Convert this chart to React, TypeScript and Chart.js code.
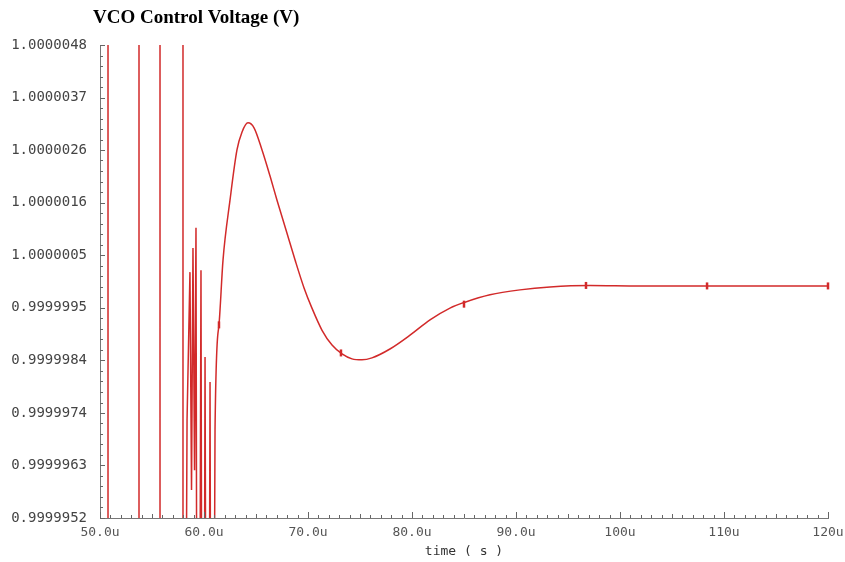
import React, { useEffect, useRef } from "react";
import { Chart, registerables } from "chart.js";

Chart.register(...registerables);

const TITLE = "VCO Control Voltage (V)";
const X_LABEL = "time ( s )";

// time in microseconds
const TIME_US = [
  50.77, 50.77, 53.75, 53.75, 55.77, 55.77, 57.98, 57.98,
  58.37, 58.65, 58.8, 58.94, 59.09, 59.23, 59.42, 59.71, 59.9, 60.1, 60.34, 60.58, 60.77,
];
const VOLTS = [
  0.99998, 1.00002, 1.00002, 0.99998, 0.99998, 1.00002, 1.00002, 0.99998,
  0.99999719, 1.00000019, 0.99999577, 1.00000068, 0.99999617, 1.00000109, 0.99998, 1.00000023,
  0.99998, 0.99999847, 0.99998, 0.99999796, 0.99998,
];

const SMOOTH_TIME_US = [
  60.77, 61.06, 61.44, 61.83, 62.5, 63.17, 63.65, 64.23, 64.81, 65.58, 66.35, 67.02, 67.88,
  68.75, 69.62, 70.38, 71.35, 72.31, 73.27, 74.23, 75.19, 76.15, 77.88, 79.81,
  81.73, 83.65, 85.1, 87.5, 90.38, 93.27, 97.12, 101.9, 120,
];
const SMOOTH_VOLTS = [
  0.99998, 0.99999699, 0.99999912, 1.00000044, 1.00000165, 1.00000267, 1.00000303, 1.00000322,
  1.00000312, 1.00000267, 1.00000214, 1.00000165, 1.00000105, 1.00000044, 0.99999987,
  0.99999946, 0.99999901, 0.99999871, 0.99999853, 0.99999843,
  0.99999841, 0.99999845, 0.99999863, 0.99999891, 0.99999922, 0.99999946, 0.99999958,
  0.99999973, 0.99999983, 0.99999989, 0.99999992, 0.99999991, 0.99999991,
];

const MARKER_TIME_US = [61.44, 73.17, 85.0, 96.73, 108.37, 120];
const MARKER_VOLTS = [0.99999912, 0.99999855, 0.99999954, 0.99999992, 0.99999991, 0.99999991];

const X_TICKS = [50, 60, 70, 80, 90, 100, 110, 120];
const X_TICK_LABELS = ["50.0u", "60.0u", "70.0u", "80.0u", "90.0u", "100u", "110u", "120u"];

const Y_TICKS = [
  0.9999952, 0.99999627, 0.99999733, 0.9999984, 0.99999947, 1.00000053, 1.0000016, 1.00000267,
  1.00000373, 1.0000048,
];
const Y_TICK_LABELS = [
  "0.9999952", "0.9999963", "0.9999974", "0.9999984", "0.9999995", "1.0000005", "1.0000016",
  "1.0000026", "1.0000037", "1.0000048",
];

const LINE_COLOR = "#d22a2a";

const decorPlugin = {
  id: "decor",
  afterDraw(chart: any) {
    const ctx = chart.ctx;
    const { left, bottom } = chart.chartArea;
    const xs = chart.scales.x;
    const ys = chart.scales.y;
    ctx.save();
    ctx.strokeStyle = "#666";
    ctx.lineWidth = 1;
    ctx.beginPath();
    for (let i = 0; i < Y_TICKS.length - 1; i++) {
      const a = ys.getPixelForValue(Y_TICKS[i]);
      const b = ys.getPixelForValue(Y_TICKS[i + 1]);
      for (let k = 0; k < 5; k++) {
        const y = Math.round(a + ((b - a) * k) / 5) + 0.5;
        const len = k === 0 ? 5 : 3;
        ctx.moveTo(left, y);
        ctx.lineTo(left + len, y);
      }
    }
    const yt = Math.round(ys.getPixelForValue(Y_TICKS[Y_TICKS.length - 1])) + 0.5;
    ctx.moveTo(left, yt);
    ctx.lineTo(left + 5, yt);
    for (let t = X_TICKS[0]; t <= X_TICKS[X_TICKS.length - 1]; t += 1) {
      const x = Math.round(xs.getPixelForValue(t)) + 0.5;
      const len = t % 10 === 0 ? 6 : t % 5 === 0 ? 4 : 3;
      ctx.moveTo(x, bottom);
      ctx.lineTo(x, bottom - len);
    }
    ctx.stroke();
    ctx.fillStyle = "#000";
    ctx.font = "bold 19px 'Liberation Serif', serif";
    ctx.textBaseline = "middle";
    ctx.textAlign = "left";
    ctx.fillText(TITLE, 93, 18);
    ctx.restore();
  },
};

export default function App() {
  const ref = useRef<HTMLCanvasElement>(null);
  useEffect(() => {
    document.body.style.margin = "0";
    const chart = new Chart(ref.current as HTMLCanvasElement, {
      type: "scatter",
      data: {
        datasets: [
          {
            data: TIME_US.map((t, i) => ({ x: t, y: VOLTS[i] })),
            showLine: true,
            borderColor: LINE_COLOR,
            borderWidth: 1.5,
            pointRadius: 0,
            tension: 0,
          },
          {
            data: SMOOTH_TIME_US.map((t, i) => ({ x: t, y: SMOOTH_VOLTS[i] })),
            showLine: true,
            borderColor: LINE_COLOR,
            borderWidth: 1.5,
            pointRadius: 0,
            cubicInterpolationMode: "monotone",
          },
          {
            data: MARKER_TIME_US.map((t, i) => ({ x: t, y: MARKER_VOLTS[i] })),
            showLine: false,
            pointStyle: "line",
            rotation: 90,
            pointRadius: 3.5,
            borderColor: LINE_COLOR,
            pointBorderWidth: 2.5,
            clip: false,
          } as any,
        ],
      },
      options: {
        animation: false,
        responsive: false,
        layout: { padding: { left: 0, top: 45, right: 17, bottom: 0 } },
        plugins: { legend: { display: false }, tooltip: { enabled: false }, title: { display: false } },
        scales: {
          x: {
            type: "linear",
            min: 50,
            max: 120,
            afterFit: (s: any) => { s.height = 44; s.paddingRight = 0; s.paddingLeft = 0; },
            afterBuildTicks: (s: any) => { s.ticks = X_TICKS.map((v) => ({ value: v })); },
            grid: { display: false, drawTicks: false },
            border: { display: true, color: "#777", width: 1 },
            ticks: {
              padding: 7,
              color: "#555",
              font: { family: "'DejaVu Sans Mono', monospace", size: 13 },
              maxRotation: 0,
              autoSkip: false,
              callback: (_v: any, i: number) => X_TICK_LABELS[i],
            },
            title: {
              display: true,
              text: X_LABEL,
              color: "#333",
              font: { family: "'DejaVu Sans Mono', monospace", size: 13 },
              padding: { top: 0, bottom: 3 },
            },
          },
          y: {
            type: "linear",
            min: 0.9999952,
            max: 1.0000048,
            afterFit: (s: any) => { s.width = 100; s.paddingTop = 0; s.paddingBottom = 0; },
            afterBuildTicks: (s: any) => { s.ticks = Y_TICKS.map((v) => ({ value: v })); },
            grid: { display: false, drawTicks: false },
            border: { display: true, color: "#777", width: 1 },
            ticks: {
              padding: 13,
              color: "#444",
              font: { family: "'DejaVu Sans Mono', monospace", size: 14 },
              autoSkip: false,
              callback: (_v: any, i: number) => Y_TICK_LABELS[i],
            },
          },
        },
      },
      plugins: [decorPlugin],
    });
    return () => chart.destroy();
  }, []);
  return <canvas ref={ref} width={845} height={562} />;
}
